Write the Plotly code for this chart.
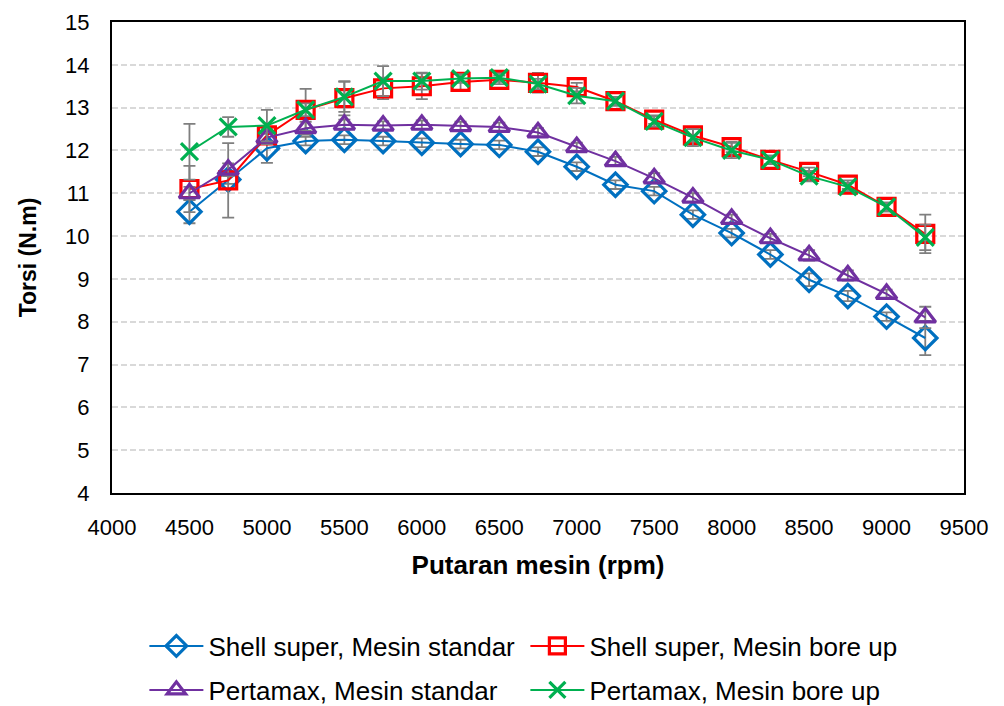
import plotly.graph_objects as go

rpm = [4500, 4750, 5000, 5250, 5500, 5750, 6000, 6250, 6500, 6750,
       7000, 7250, 7500, 7750, 8000, 8250, 8500, 8750, 9000, 9250]

shell_std = [10.57, 11.32, 12.05, 12.22, 12.25, 12.22, 12.18, 12.15, 12.13, 11.97,
             11.62, 11.20, 11.05, 10.50, 10.07, 9.57, 8.98, 8.60, 8.12, 7.62]
shell_bore = [11.10, 11.30, 12.35, 12.95, 13.22, 13.45, 13.50, 13.60, 13.65, 13.58,
              13.48, 13.15, 12.72, 12.35, 12.08, 11.78, 11.50, 11.20, 10.68, 10.05]
perta_std = [11.00, 11.55, 12.30, 12.52, 12.60, 12.58, 12.60, 12.57, 12.55, 12.42,
             12.08, 11.75, 11.35, 10.90, 10.40, 9.95, 9.55, 9.08, 8.65, 8.10]
perta_bore = [11.97, 12.55, 12.58, 12.95, 13.25, 13.62, 13.62, 13.68, 13.70, 13.55,
              13.28, 13.15, 12.68, 12.30, 12.00, 11.78, 11.40, 11.15, 10.68, 9.97]

err_shell_std = [0.27, 0.10, 0.34, 0.10, 0.10, 0.10, 0.10, 0.10, 0.10, 0.10,
                 0.10, 0.10, 0.10, 0.10, 0.10, 0.10, 0.15, 0.12, 0.10, 0.40]
err_shell_bore = [0.54, 0.87, 0.15, 0.49, 0.40, 0.25, 0.30, 0.20, 0.10, 0.23,
                  0.10, 0.10, 0.10, 0.15, 0.12, 0.10, 0.10, 0.10, 0.10, 0.45]
err_perta_std = [0.15, 0.15, 0.15, 0.15, 0.12, 0.10, 0.10, 0.10, 0.10, 0.10,
                 0.10, 0.10, 0.12, 0.10, 0.10, 0.10, 0.12, 0.12, 0.10, 0.25]
err_perta_bore = [0.65, 0.23, 0.37, 0.15, 0.35, 0.35, 0.20, 0.10, 0.10, 0.12,
                  0.18, 0.10, 0.12, 0.20, 0.18, 0.10, 0.12, 0.10, 0.10, 0.30]

series = [
    ("Shell super, Mesin standar", shell_std, err_shell_std, "#0070C0", "diamond-open", 18, "legend"),
    ("Shell super, Mesin bore up", shell_bore, err_shell_bore, "#FF0000", "square-open", 17, "legend"),
    ("Pertamax, Mesin standar", perta_std, err_perta_std, "#7030A0", "triangle-up-open", 18, "legend2"),
    ("Pertamax, Mesin bore up", perta_bore, err_perta_bore, "#00B050", "x-thin-open", 17, "legend2"),
]

fig = go.Figure()
for name, vals, errs, color, sym, size, leg in series:
    fig.add_trace(go.Scatter(
        x=rpm, y=vals, name=name, mode="lines+markers", legend=leg,
        line=dict(color=color, width=2),
        marker=dict(symbol=sym, size=size, color=color, line=dict(color=color, width=3.2)),
        error_y=dict(type="data", array=errs, visible=True, color="#7F7F7F",
                     thickness=1.8, width=6),
    ))

leg_common = dict(orientation="h", xanchor="left", yanchor="middle", yref="container",
                  entrywidth=312, entrywidthmode="pixels",
                  font=dict(size=26), itemwidth=54, bgcolor="rgba(0,0,0,0)")

fig.update_layout(
    width=1004, height=706,
    margin=dict(l=104, r=48, t=14, b=221),
    paper_bgcolor="white", plot_bgcolor="white",
    font=dict(family="Liberation Sans, Arial", size=22, color="black"),
    showlegend=True,
    legend=dict(x=0.038, y=0.0963, **leg_common),
    legend2=dict(x=0.038, y=0.034, **leg_common),
)
fig.update_xaxes(
    range=[4000, 9500], dtick=500, tick0=4000,
    showgrid=False, zeroline=False,
    showline=True, linecolor="black", linewidth=2, mirror=True,
    ticks="", ticklabelstandoff=14, automargin=False,
    title=dict(text="<b>Putaran mesin (rpm)</b>", standoff=16, font=dict(size=26)),
)
fig.update_yaxes(
    range=[4, 15], dtick=1, tick0=4,
    showgrid=True, gridcolor="#D9D9D9", griddash="6px,3px", gridwidth=2,
    zeroline=False,
    showline=True, linecolor="black", linewidth=2, mirror=True,
    ticks="", ticklabelstandoff=16, automargin=False,
    title=dict(text="<b>Torsi (N.m)</b>", standoff=22, font=dict(size=23)),
)

fig.write_html("out.html")
